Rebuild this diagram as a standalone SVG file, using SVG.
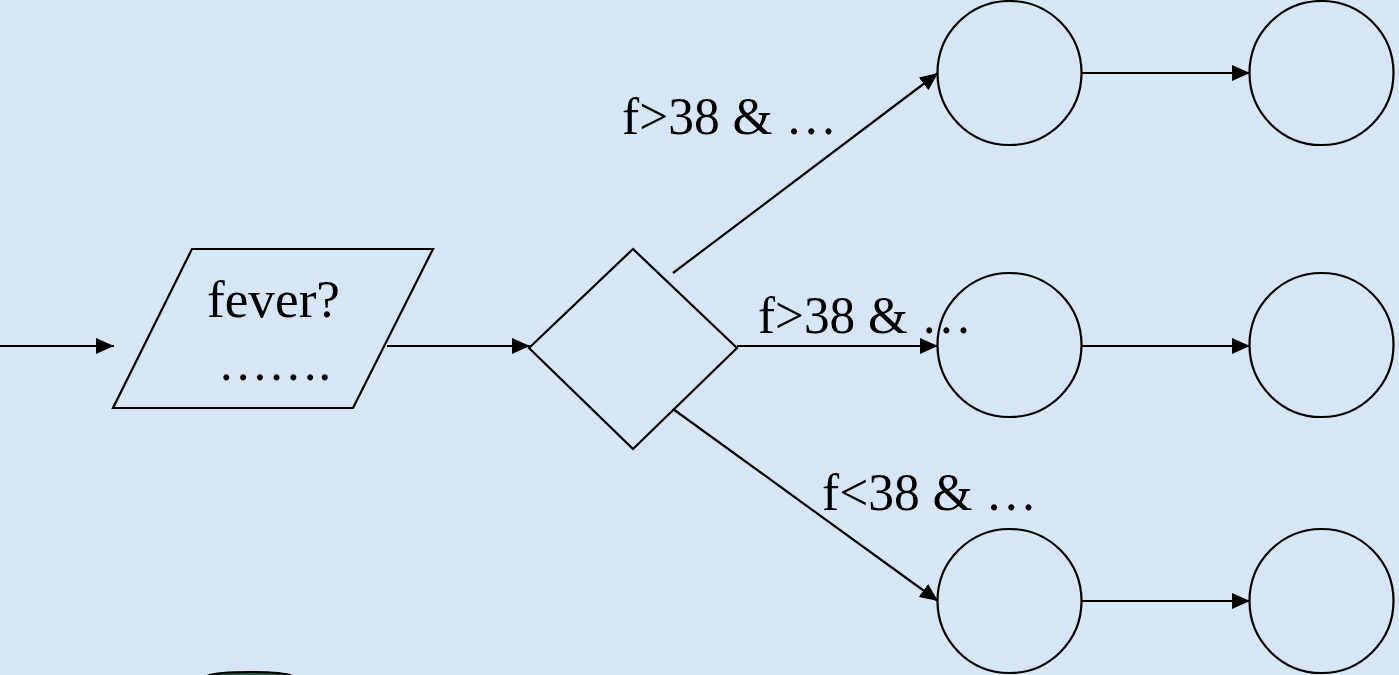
<svg xmlns="http://www.w3.org/2000/svg" width="1399" height="675" viewBox="0 0 1399 675">
<defs>
<style>
.shape{fill:none;stroke:#000;stroke-width:2.2}
.lbl{font-family:"Liberation Serif","Times New Roman",serif;font-size:52px;fill:#000}
</style>
<marker id="arrh" viewBox="0 0 18 16" refX="18" refY="8" markerWidth="18" markerHeight="16" markerUnits="userSpaceOnUse" orient="auto">
<path d="M0,0 L18,8 L0,16 z" fill="#000"/>
</marker>
</defs>
<rect x="0" y="0" width="1399" height="675" fill="#d7e6f5"/>
<g id="connectors" fill="none" stroke="#000" stroke-width="2.2">
<line x1="0" y1="346" x2="114" y2="346" marker-end="url(#arrh)"/>
<line x1="387" y1="346" x2="530" y2="346" marker-end="url(#arrh)"/>
<line x1="673" y1="273" x2="938" y2="73" marker-end="url(#arrh)"/>
<line x1="737" y1="346" x2="938" y2="346" marker-end="url(#arrh)"/>
<line x1="673" y1="409" x2="938" y2="601" marker-end="url(#arrh)"/>
<line x1="1082" y1="73" x2="1250" y2="73" marker-end="url(#arrh)"/>
<line x1="1082" y1="346" x2="1250" y2="346" marker-end="url(#arrh)"/>
<line x1="1082" y1="601" x2="1250" y2="601" marker-end="url(#arrh)"/>
</g>
<g id="input">
<polygon class="shape" points="192,249 433,249 353,408 113,408"/>
<text class="lbl" x="207" y="317" textLength="133" lengthAdjust="spacingAndGlyphs">fever?</text>
<text class="lbl" x="218" y="380" textLength="113" lengthAdjust="spacingAndGlyphs">…….</text>
</g>
<g id="decision">
<polygon class="shape" points="529,348 633,249 737,348 633,449"/>
</g>
<g id="labels">
<text class="lbl" x="622" y="134" textLength="215" lengthAdjust="spacingAndGlyphs">f&gt;38 &amp; …</text>
<text class="lbl" x="758" y="333" textLength="214" lengthAdjust="spacingAndGlyphs">f&gt;38 &amp; …</text>
<text class="lbl" x="822" y="510" textLength="215" lengthAdjust="spacingAndGlyphs">f&lt;38 &amp; …</text>
</g>
<g id="s1a"><circle class="shape" cx="1009.5" cy="73" r="72"/></g>
<g id="s1b"><circle class="shape" cx="1321.5" cy="73" r="72"/></g>
<g id="s2a"><circle class="shape" cx="1009.5" cy="345" r="72"/></g>
<g id="s2b"><circle class="shape" cx="1321.5" cy="345" r="72"/></g>
<g id="s3a"><circle class="shape" cx="1009.5" cy="601" r="72"/></g>
<g id="s3b"><circle class="shape" cx="1321.5" cy="601" r="72"/></g>
<g id="partial">
<path d="M205,677 Q212,672 250,672 Q288,672 294,677 Z" fill="#1d5a48" stroke="#000" stroke-width="2"/>
</g>
</svg>
